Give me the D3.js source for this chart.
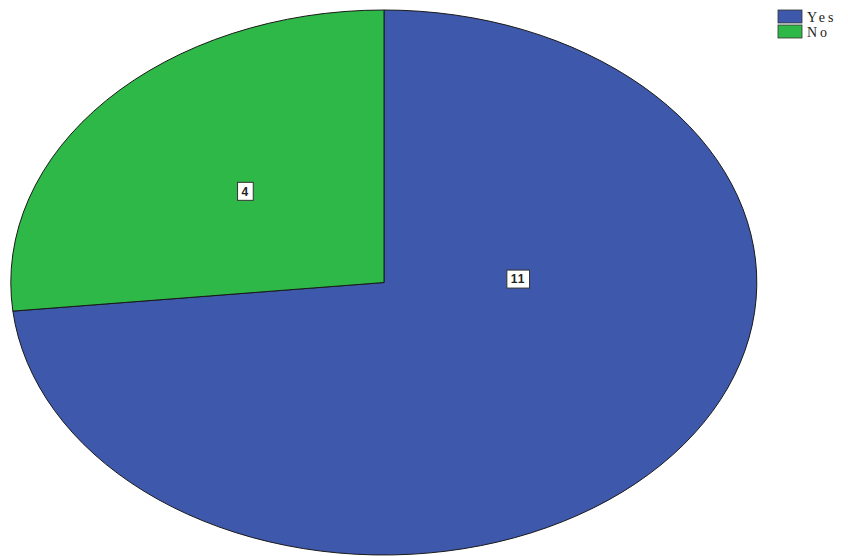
<!DOCTYPE html>
<html>
<head>
<meta charset="utf-8">
<script src="https://cdn.jsdelivr.net/npm/d3@7"></script>
<style>
  body { margin: 0; background: #fff; }
  svg { display: block; }
</style>
</head>
<body>
<svg id="canvas" width="848" height="556"></svg>
<script>
let categories = ['Yes', 'No']
let counts = [11, 4]
let colors = ['#3e58ac', '#2eb848']
// where SPSS put each value label: angle (deg, clockwise from top) and fraction of radius
let labelAngles = [88, 312]
let labelRadii = [0.36, 0.5]

let canvas = d3.select('#canvas')

let cx = 384, cy = 282.5, rx = 373, ry = 272.5

let pie = d3.pie().sort(null).value((d) => d)
let slices = pie(counts)

let arc = d3.arc().innerRadius(0).outerRadius(1)

let pieGroup = canvas.append('g')
    .attr('transform', 'translate(' + cx + ',' + cy + ') scale(' + rx + ',' + ry + ')')

pieGroup.selectAll('path')
    .data(slices)
    .enter()
    .append('path')
    .attr('d', arc)
    .attr('fill', (d, i) => colors[i])
    .attr('stroke', '#1a1a1a')
    .attr('stroke-width', 1)
    .attr('vector-effect', 'non-scaling-stroke')

// value labels in white boxes
let labels = canvas.selectAll('g.label')
    .data(slices)
    .enter()
    .append('g')
    .attr('class', 'label')
    .attr('transform', (d, i) => {
        let a = labelAngles[i] * Math.PI / 180
        let x = cx + Math.sin(a) * labelRadii[i] * rx
        let y = cy - Math.cos(a) * labelRadii[i] * ry
        return 'translate(' + x + ',' + y + ')'
    })

labels.append('text')
    .text((d) => d.value)
    .attr('text-anchor', 'middle')
    .attr('dy', '0.36em')
    .style('font-family', 'Arial, "Liberation Sans", sans-serif')
    .style('font-size', '12px')
    .style('font-weight', 'bold')
    .style('letter-spacing', '1px')
    .style('fill', '#222')

labels.each(function () {
    let g = d3.select(this)
    let b = g.select('text').node().getBBox()
    g.insert('rect', 'text')
        .attr('x', b.x - 4)
        .attr('y', -9)
        .attr('width', b.width + 8)
        .attr('height', 18)
        .attr('fill', '#fff')
        .attr('stroke', '#333')
        .attr('stroke-width', 1)
})

// legend
let legend = canvas.selectAll('g.legend')
    .data(categories)
    .enter()
    .append('g')
    .attr('class', 'legend')
    .attr('transform', (d, i) => 'translate(778,' + (10 + i * 15) + ')')

legend.append('rect')
    .attr('width', 24)
    .attr('height', 13)
    .attr('fill', (d, i) => colors[i])
    .attr('stroke', '#333')
    .attr('stroke-width', 0.8)

legend.append('text')
    .text((d) => d)
    .attr('x', 29)
    .attr('y', 12)
    .style('font-family', '"Liberation Serif", "DejaVu Serif", serif')
    .style('font-size', '14px')
    .style('letter-spacing', '3px')
    .style('fill', '#222')
</script>
</body>
</html>
